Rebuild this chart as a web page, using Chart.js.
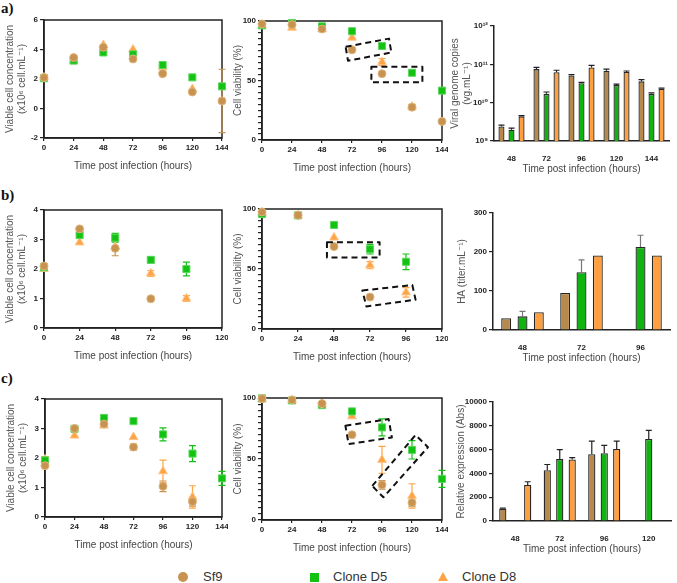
<!DOCTYPE html>
<html>
<head>
<meta charset="utf-8">
<script src="https://cdn.jsdelivr.net/npm/chart.js@4.4.1/dist/chart.umd.min.js"></script>
<style>
  body { margin: 0; background: #fff; width: 677px; height: 583px; position: relative; overflow: hidden;
         font-family: "Liberation Sans", Arial, sans-serif; }
  canvas { position: absolute; }
  .tag { position: absolute; left: 1px; font: bold 15px "Liberation Serif", "Times New Roman", serif; color: #111; }
  .leg { position: absolute; top: 569px; font-size: 13px; line-height: 16px; color: #333; }
  .mk { position: absolute; }
</style>
</head>
<body>
<div class="tag" style="top:0px">a)</div>
<div class="tag" style="top:187px">b)</div>
<div class="tag" style="top:370px">c)</div>

<canvas id="a1"></canvas><canvas id="a2"></canvas><canvas id="a3"></canvas>
<canvas id="b1"></canvas><canvas id="b2"></canvas><canvas id="b3"></canvas>
<canvas id="c1"></canvas><canvas id="c2"></canvas><canvas id="c3"></canvas>

<span class="mk" style="left:178px;top:572px;width:10px;height:10px;border-radius:50%;background:#C89350"></span>
<div class="leg" style="left:203px">Sf9</div>
<span class="mk" style="left:310px;top:573px;width:9px;height:9px;background:#14C214"></span>
<div class="leg" style="left:333px">Clone D5</div>
<span class="mk" style="left:438px;top:572px;width:0;height:0;border-left:5px solid transparent;border-right:5px solid transparent;border-bottom:9px solid #FFA445"></span>
<div class="leg" style="left:462px">Clone D8</div>

<script>
// ---- data ----
const hours144 = [0, 24, 48, 72, 96, 120, 144]
const hours96 = [0, 24, 48, 72, 96]

// a) viable cells (x10^6/mL)
const a1Sf9 = [2.1, 3.45, 4.15, 3.36, 2.36, 1.12, 0.51]
const a1Sf9Err = [0, 0, 0, 0, 0, 0, 2.15]
const a1D5 = [2.05, 3.25, 3.8, 3.67, 2.95, 2.11, 1.5]
const a1D8 = [2.1, 3.2, 4.3, 4.0, 2.8, 1.32, null]
// a) viability (%)
const a2Sf9 = [97.5, 97, 93.3, 75.8, 55.7, 27.6, 15.6]
const a2Sf9Err = [0, 0, 0, 0, 0, 2, 0]
const a2D5 = [96.4, 98.3, 95.5, 91.4, 79, 56.5, 41.5]
const a2D8 = [96, 94.4, 93, 86, 65.5, 28, null]
const a2D8Err = [0, 0, 0, 0, 3, 2, 0]
const a2Boxes = [
  [[66.9, 78.3], [101.6, 85.2], [103.5, 73.5], [68.8, 66.6]],
  [[87.5, 61.6], [128.3, 61.6], [128.3, 48.5], [87.5, 48.5]],
]
// a) viral genome copies (vg/mL)
const a3Cats = ["48", "72", "96", "120", "144"]
const a3Sf9 = [2.4e9, 7.5e10, 5.1e10, 6.8e10, 3.6e10]
const a3Sf9Err = [0.2e9, 0.8e10, 0.3e10, 0.7e10, 0.4e10]
const a3D5 = [1.96e9, 1.7e10, 3.2e10, 2.9e10, 1.7e10]
const a3D5Err = [0.2e9, 0.2e10, 0.2e10, 0.15e10, 0.1e10]
const a3D8 = [4.4e9, 6.2e10, 8.3e10, 6.3e10, 2.3e10]
const a3D8Err = [0.2e9, 0.8e10, 1.1e10, 0.4e10, 0.1e10]

// b) viable cells
const b1Sf9 = [2.1, 3.36, 2.7, 0.99, null]
const b1Sf9Err = [0, 0, 0.25, 0, 0]
const b1D5 = [2.06, 3.15, 3.06, 2.31, 2.0]
const b1D5Err = [0, 0.1, 0.15, 0.1, 0.23]
const b1D8 = [2.0, 2.9, 2.75, 1.85, 1.0]
const b1D8Err = [0, 0, 0, 0.1, 0.1]
// b) viability
const b2Sf9 = [97.5, 94.7, 68.7, 26.6, null]
const b2D5 = [95.8, 94.7, 86.7, 66.5, 56]
const b2D5Err = [0, 0, 0, 4, 6.5]
const b2D8 = [97, 94.7, 76.2, 53.2, 30.5]
const b2D8Err = [0, 0, 0, 3, 4]
const b2Boxes = [
  [[43.3, 72.3], [78.4, 72.3], [78.4, 59.6], [43.3, 59.6]],
  [[66.9, 32.1], [100.2, 36.6], [102.4, 24.4], [69.6, 18.8]],
]
// b) HA titer
const b3Cats = ["48", "72", "96"]
const b3Sf9 = [30, 95, null]
const b3D5 = [35, 148, 213]
const b3D5Err = [13, 32, 30]
const b3D8 = [45.5, 191, 191]

// c) viable cells
const c1Sf9 = [1.74, 3.0, 3.15, 2.37, 1.04, 0.52, null]
const c1Sf9Err = [0, 0, 0.1, 0.1, 0.18, 0.15, 0]
const c1D5 = [1.92, 2.99, 3.36, 3.25, 2.8, 2.15, 1.31]
const c1D5Err = [0, 0, 0, 0, 0.22, 0.27, 0.24]
const c1D8 = [1.95, 2.76, 3.1, 2.71, 1.55, 0.68, null]
const c1D8Err = [0.1, 0, 0.05, 0, 0.38, 0.38, 0]
// c) viability
const c2Sf9 = [99.5, 98.4, 95.3, 69.9, 28.8, 14.2, null]
const c2Sf9Err = [0, 0, 0, 0, 3.5, 3, 0]
const c2D5 = [99.7, 98, 94.2, 89, 75.9, 57.5, 33.7]
const c2D5Err = [0, 0, 0, 0, 7, 7.5, 7]
const c2D8 = [99, 98, 95, 85, 49.3, 19.7, null]
const c2D8Err = [0, 0, 0, 0, 11, 10, 0]
const c2Boxes = [
  [[66.7, 77.3], [101.3, 82.7], [103.9, 67.7], [69.3, 62.2]],
  [[88.2, 27.9], [122.8, 69.6], [132.8, 59.7], [97.1, 18.6]],
]
// c) relative expression
const c3Cats = ["48", "72", "96", "120"]
const c3Sf9 = [1030, 4270, 5610, null]
const c3Sf9Err = [60, 480, 1100, 0]
const c3D5 = [null, 5200, 5700, 6900]
const c3D5Err = [0, 800, 650, 720]
const c3D8 = [3020, 5170, 6060, null]
const c3D8Err = [280, 160, 650, 0]

// ---- styling ----
const FAMILY = '"Liberation Sans", "DejaVu Sans", Arial, sans-serif'
const tickFont = { family: FAMILY, size: 8, weight: "bold" }
const titleFont = { family: FAMILY, size: 10, lineHeight: 1.2 }
const INK = "#222"
const sf9 = { label: "Sf9", color: "#C89350", edge: "#DDB47C", bar: "#B8894D", style: "circle", r: 4 }
const d5 = { label: "Clone D5", color: "#14C214", edge: "#5CD85C", bar: "#10B410", style: "rect", r: 5 }
const d8 = { label: "Clone D8", color: "#FFA445", edge: "#FFC283", bar: "#FF9F3F", style: "triangle", r: 5 }
const SUP = { 0: "⁰", 1: "¹", 2: "²", 3: "³", 4: "⁴", 5: "⁵", 6: "⁶", 7: "⁷", 8: "⁸", 9: "⁹" }

const frame = {
  id: "frame",
  beforeDatasetsDraw(chart) {
    const { ctx, chartArea: a } = chart
    ctx.save()
    ctx.strokeStyle = INK
    ctx.lineWidth = 1.5
    ctx.strokeRect(a.left, a.top, a.right - a.left, a.bottom - a.top)
    ctx.restore()
  },
}

const errorBars = {
  id: "errorBars",
  beforeDatasetsDraw(chart) {
    const ctx = chart.ctx
    const ys = chart.scales.y
    chart.data.datasets.forEach((ds, i) => {
      if (!ds.errors) return
      const meta = chart.getDatasetMeta(i)
      ctx.save()
      ctx.strokeStyle = ds.errColor
      ctx.lineWidth = 1.2
      meta.data.forEach((el, j) => {
        const d = ds.data[j]
        const v = d !== null && typeof d === "object" ? d.y : d
        const e = ds.errors[j]
        if (v === null || v === undefined || !e) return
        const top = ys.getPixelForValue(v + e)
        const bot = ds.errUp ? el.y : ys.getPixelForValue(v - e)
        const cw = ds.capW
        ctx.beginPath()
        ctx.moveTo(el.x, top); ctx.lineTo(el.x, bot)
        ctx.moveTo(el.x - cw, top); ctx.lineTo(el.x + cw, top)
        if (!ds.errUp) { ctx.moveTo(el.x - cw, bot); ctx.lineTo(el.x + cw, bot) }
        ctx.stroke()
      })
      ctx.restore()
    })
  },
}

function dashBoxes(boxes) {
  return {
    id: "dashBoxes",
    afterDatasetsDraw(chart) {
      const { ctx, scales: { x, y } } = chart
      ctx.save()
      ctx.strokeStyle = "#111"
      ctx.lineWidth = 2
      ctx.setLineDash([6, 4])
      ctx.lineJoin = "round"
      boxes.forEach((b) => {
        ctx.beginPath()
        b.forEach(([px, py], k) => {
          const X = x.getPixelForValue(px), Y = y.getPixelForValue(py)
          k ? ctx.lineTo(X, Y) : ctx.moveTo(X, Y)
        })
        ctx.closePath()
        ctx.stroke()
      })
      ctx.restore()
    },
  }
}

function place(id, g) {
  const c = document.getElementById(id)
  c.width = g.w
  c.height = g.h
  c.style.left = g.left + "px"
  c.style.top = g.top + "px"
  return c
}

function xAxisCommon(g) {
  return {
    border: { color: INK, width: 1.5 },
    title: { display: true, text: "Time post infection (hours)", font: titleFont, color: "#444", padding: 0 },
    afterFit: (s) => { s.height = 34; s.paddingLeft = 0; s.paddingRight = 0 },
  }
}

function yAxisCommon(g, title) {
  return {
    border: { color: INK, width: 1.5 },
    grid: { drawOnChartArea: false, tickLength: 4, color: INK, lineWidth: 1.2 },
    title: { display: true, text: title, font: titleFont, color: "#555", padding: { top: g.tp, bottom: 0 } },
    afterFit: (s) => { s.width = g.yw; s.paddingTop = 0; s.paddingBottom = 0 },
  }
}

function scatterChart(id, g, xs, xMax, y, series, boxes) {
  const plugins = [frame, errorBars]
  if (boxes) plugins.push(dashBoxes(boxes))
  return new Chart(place(id, g), {
    type: "line",
    data: {
      datasets: series.map((s) => ({
        label: s.st.label,
        data: xs.map((x, i) => ({ x: x, y: s.vals[i] })),
        errors: s.errs,
        errColor: s.st.color,
        capW: 3.5,
        showLine: false,
        pointStyle: s.st.style,
        pointRadius: s.st.r,
        pointBackgroundColor: s.st.color,
        pointBorderColor: s.st.edge,
        pointBorderWidth: 1,
        clip: false,
      })),
    },
    options: {
      responsive: false,
      animation: false,
      layout: { padding: { top: 8, right: 6, left: 0, bottom: 0 } },
      plugins: { legend: { display: false }, tooltip: { enabled: false } },
      scales: {
        x: Object.assign(xAxisCommon(g), {
          type: "linear", min: 0, max: xMax,
          ticks: { stepSize: 24, font: tickFont, color: INK, padding: 2, maxRotation: 0, autoSkip: false },
          grid: { drawOnChartArea: false, tickLength: 3, color: INK, lineWidth: 1.2 },
        }),
        y: Object.assign(yAxisCommon(g, y.title), {
          min: y.min, max: y.max,
          ticks: {
            stepSize: y.step, font: tickFont, color: INK, padding: 2, autoSkip: false,
            callback: (v) => (y.every && v % y.every !== 0 ? "" : String(v)),
          },
        }),
      },
    },
    plugins: plugins,
  })
}

function barChart(id, g, cats, y, series, pct) {
  return new Chart(place(id, g), {
    type: "bar",
    data: {
      labels: cats,
      datasets: series.map((s) => ({
        label: s.st.label,
        data: s.vals,
        errors: s.errs,
        errUp: true,
        errColor: s.errColor || "#222",
        capW: 3,
        backgroundColor: s.st.bar,
        borderColor: "#262626",
        borderWidth: 1.3,
        barPercentage: pct.bar,
        categoryPercentage: pct.cat,
      })),
    },
    options: {
      responsive: false,
      animation: false,
      layout: { padding: { top: 8, right: 6, left: 0, bottom: 0 } },
      plugins: { legend: { display: false }, tooltip: { enabled: false } },
      scales: {
        x: Object.assign(xAxisCommon(g), {
          grid: { display: false },
          ticks: { font: tickFont, color: INK, padding: 5, maxRotation: 0 },
        }),
        y: Object.assign(yAxisCommon(g, y.title), y.scale),
      },
    },
    plugins: [errorBars],
  })
}

const viable = ["Viable cell concentration", "(x10⁶ cell.mL⁻¹)"]
const viab = "Cell viability (%)"
const plain = (v) => String(v)

// row a
scatterChart("a1", { left: 0, top: 12, w: 228, h: 160, yw: 44, tp: 4 }, hours144, 144,
  { min: -2, max: 6, step: 2, title: viable },
  [{ st: sf9, vals: a1Sf9, errs: a1Sf9Err }, { st: d5, vals: a1D5 }, { st: d8, vals: a1D8 }])
scatterChart("a2", { left: 220, top: 13, w: 228, h: 161, yw: 42, tp: 12 }, hours144, 144,
  { min: 0, max: 100, step: 5, every: 50, title: viab },
  [{ st: sf9, vals: a2Sf9, errs: a2Sf9Err }, { st: d5, vals: a2D5 }, { st: d8, vals: a2D8, errs: a2D8Err }], a2Boxes)
barChart("a3", { left: 446, top: 18, w: 229, h: 157, yw: 48, tp: 3 }, a3Cats,
  {
    title: ["Viral genome copies", "(vg.mL⁻¹)"],
    scale: {
      type: "logarithmic", min: 1e9, max: 1e12,
      afterBuildTicks: (s) => {
        s.ticks = s.ticks.filter((t) => Math.abs(Math.log10(t.value) - Math.round(Math.log10(t.value))) < 1e-9)
      },
      ticks: {
        font: tickFont, color: INK, padding: 2, autoSkip: false,
        callback: (v) => "10" + String(Math.round(Math.log10(v))).split("").map((d) => SUP[d]).join(""),
      },
    },
  },
  [{ st: sf9, vals: a3Sf9, errs: a3Sf9Err }, { st: d5, vals: a3D5, errs: a3D5Err }, { st: d8, vals: a3D8, errs: a3D8Err }],
  { cat: 0.86, bar: 0.6 })

// row b
scatterChart("b1", { left: 0, top: 202, w: 228, h: 160, yw: 44, tp: 4 }, hours96, 120,
  { min: 0, max: 4, step: 1, title: viable },
  [{ st: sf9, vals: b1Sf9, errs: b1Sf9Err }, { st: d5, vals: b1D5, errs: b1D5Err }, { st: d8, vals: b1D8, errs: b1D8Err }])
scatterChart("b2", { left: 220, top: 201, w: 228, h: 162, yw: 42, tp: 12 }, hours96, 120,
  { min: 0, max: 100, step: 5, every: 50, title: viab },
  [{ st: sf9, vals: b2Sf9 }, { st: d5, vals: b2D5, errs: b2D5Err }, { st: d8, vals: b2D8, errs: b2D8Err }], b2Boxes)
barChart("b3", { left: 445, top: 205, w: 231, h: 159, yw: 48, tp: 11 }, b3Cats,
  {
    title: "HA (titer.mL⁻¹)",
    scale: { min: 0, max: 300, ticks: { stepSize: 100, font: tickFont, color: INK, padding: 2, callback: plain } },
  },
  [{ st: sf9, vals: b3Sf9 }, { st: d5, vals: b3D5, errs: b3D5Err, errColor: "#777" }, { st: d8, vals: b3D8 }],
  { cat: 0.83, bar: 0.61 })

// row c
scatterChart("c1", { left: 0, top: 391, w: 228, h: 160, yw: 45, tp: 5 }, hours144, 144,
  { min: 0, max: 4, step: 1, title: viable },
  [{ st: sf9, vals: c1Sf9, errs: c1Sf9Err }, { st: d5, vals: c1D5, errs: c1D5Err }, { st: d8, vals: c1D8, errs: c1D8Err }])
scatterChart("c2", { left: 220, top: 390, w: 228, h: 164, yw: 42, tp: 12 }, hours144, 144,
  { min: 0, max: 100, step: 5, every: 50, title: viab },
  [{ st: sf9, vals: c2Sf9, errs: c2Sf9Err }, { st: d5, vals: c2D5, errs: c2D5Err }, { st: d8, vals: c2D8, errs: c2D8Err }], c2Boxes)
barChart("c3", { left: 445, top: 394, w: 232, h: 161, yw: 48, tp: 10 }, c3Cats,
  {
    title: "Relative expression (Abs)",
    scale: { min: 0, max: 10000, ticks: { stepSize: 2000, font: tickFont, color: INK, padding: 2, callback: plain } },
  },
  [{ st: sf9, vals: c3Sf9, errs: c3Sf9Err }, { st: d5, vals: c3D5, errs: c3D5Err }, { st: d8, vals: c3D8, errs: c3D8Err }],
  { cat: 0.84, bar: 0.58 })
</script>
</body>
</html>
